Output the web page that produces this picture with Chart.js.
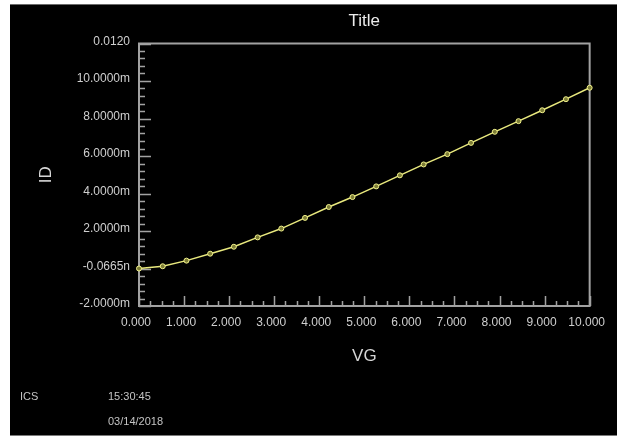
<!DOCTYPE html>
<html>
<head>
<meta charset="utf-8">
<script src="https://cdn.jsdelivr.net/npm/chart.js@4.4.1/dist/chart.umd.min.js"></script>
<style>
  html, body { margin: 0; padding: 0; background: #ffffff; }
  body { width: 617px; height: 438px; position: relative; overflow: hidden; font-family: "Liberation Sans", Arial, sans-serif; }
  #panel { position: absolute; left: 10px; top: 4px; width: 607px; height: 432px; background: #000; border-top: 1px solid #6a6a6a; border-bottom: 1px solid #7a7a7a; box-sizing: border-box; }
  #wrap { position: absolute; left: 0; top: 0; width: 617px; height: 438px; }
  .info { position: absolute; color: #c4c4c4; font-size: 11px; line-height: 12px; }
</style>
</head>
<body>
<div id="panel"></div>
<div id="wrap"><canvas id="c" width="617" height="438"></canvas></div>
<div class="info" style="left:20px; top:390px;">ICS</div>
<div class="info" style="left:108px; top:390px;">15:30:45</div>
<div class="info" style="left:108px; top:415px;">03/14/2018</div>
<script>
// Sweep of gate voltage VG (V) and measured drain current ID (mA)
const vgValues = [0, 0.526, 1.053, 1.579, 2.105, 2.632, 3.158, 3.684, 4.211, 4.737,
                  5.263, 5.789, 6.316, 6.842, 7.368, 7.895, 8.421, 8.947, 9.474, 10];
const idValues = [0.00, 0.12, 0.42, 0.79, 1.16, 1.66, 2.13, 2.70, 3.28, 3.81,
                  4.38, 4.97, 5.55, 6.10, 6.70, 7.29, 7.86, 8.44, 9.03, 9.64];

const yTickLabels = ["-2.0000m", "-0.0665n", "2.0000m", "4.0000m", "6.0000m", "8.0000m", "10.0000m", "0.0120"];
const xTickLabels = ["0.000", "1.000", "2.000", "3.000", "4.000", "5.000", "6.000", "7.000", "8.000", "9.000", "10.000"];

const FONT = '"Liberation Sans", Arial, sans-serif';
const AXIS_GRAY = '#a2a2a2';

// Plot frame plus inward-pointing major/minor tick marks
const frameTicks = {
  id: 'frameTicks',
  beforeDatasetsDraw(chart) {
    const { ctx, chartArea: a, scales } = chart;
    const xs = scales.x, ys = scales.y;
    ctx.save();
    ctx.strokeStyle = AXIS_GRAY;
    ctx.lineWidth = 2;
    ctx.strokeRect(a.left, a.top, a.right - a.left, a.bottom - a.top);
    ctx.lineWidth = 1.5;
    ctx.beginPath();
    for (let i = 0; i <= 40; i++) {
      const px = Math.round(xs.getPixelForValue(i / 4)) + 0.5;
      const len = (i % 4 === 0) ? 10 : 5;
      ctx.moveTo(px, a.bottom);
      ctx.lineTo(px, a.bottom - len);
    }
    for (let i = 0; i <= 35; i++) {
      const py = Math.round(ys.getPixelForValue(-2 + i * 0.4)) + 0.5;
      const len = (i % 5 === 0) ? 12 : 6;
      ctx.moveTo(a.left, py);
      ctx.lineTo(a.left + len, py);
    }
    ctx.stroke();
    ctx.restore();
  }
};

new Chart(document.getElementById('c'), {
  type: 'line',
  data: {
    datasets: [{
      label: 'ID',
      data: vgValues.map((v, i) => ({ x: v, y: idValues[i] })),
      borderColor: '#e9e97e',
      borderWidth: 1.5,
      pointRadius: 2.5,
      pointBorderWidth: 1,
      pointBorderColor: '#f2f28c',
      pointBackgroundColor: '#7d7d36',
      tension: 0,
      clip: false
    }]
  },
  options: {
    responsive: false,
    animation: false,
    events: [],
    layout: { padding: { left: 0, top: 0, right: 26, bottom: 0 } },
    plugins: {
      legend: { display: false },
      tooltip: { enabled: false },
      title: {
        display: true,
        text: 'Title',
        fullSize: false,
        color: '#ececec',
        font: { family: FONT, size: 17, weight: 'normal' },
        padding: { top: 10.8, bottom: 12.3 }
      }
    },
    scales: {
      x: {
        type: 'linear',
        min: 0, max: 10,
        grid: { display: false, drawTicks: false },
        border: { display: false },
        ticks: {
          stepSize: 1,
          padding: 9,
          labelOffset: -3,
          color: '#cfcfcf',
          font: { family: FONT, size: 12 },
          callback: (v, i) => xTickLabels[i]
        },
        title: {
          display: true,
          text: 'VG',
          color: '#d6d6d6',
          font: { family: FONT, size: 17 },
          padding: { top: 0, bottom: 71.8 }
        },
        afterFit(s) { s.height = 132; }
      },
      y: {
        type: 'linear',
        min: -2, max: 12,
        grid: { display: false, drawTicks: false },
        border: { display: false },
        ticks: {
          stepSize: 2,
          padding: 9,
          labelOffset: -2,
          color: '#cfcfcf',
          font: { family: FONT, size: 12 },
          callback: (v, i) => yTickLabels[i]
        },
        title: {
          display: true,
          text: 'ID',
          color: '#d6d6d6',
          font: { family: FONT, size: 17 },
          padding: { top: 35.8, bottom: 0 }
        },
        afterFit(s) { s.width = 139; }
      }
    }
  },
  plugins: [frameTicks]
});
</script>
</body>
</html>
